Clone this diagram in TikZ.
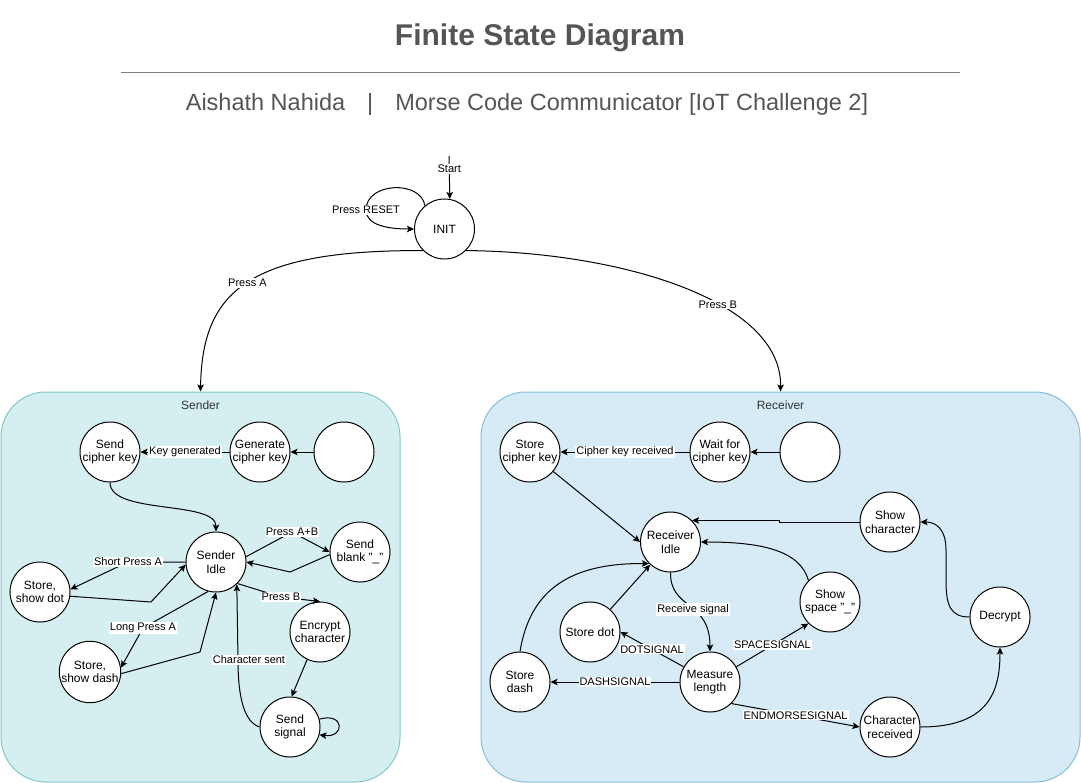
\documentclass[tikz,border=0pt]{standalone}
\usepackage{fontspec}
\setmainfont{Liberation Sans}
\usepackage{tikz}
\usetikzlibrary{arrows.meta}
\definecolor{titlegray}{HTML}{555555}
\definecolor{sendfill}{HTML}{D5EFF1}
\definecolor{senddraw}{HTML}{84C6CB}
\definecolor{recvfill}{HTML}{D6EBF5}
\definecolor{recvdraw}{HTML}{86BDD8}
\tikzstyle{state}=[circle,draw,fill=white,minimum size=60pt,inner sep=0pt,align=center,font=\fontsize{12}{13.5}\selectfont]
\tikzstyle{trans}=[->,>={Stealth[length=7pt,width=6.5pt,inset=1.5pt]}]
\tikzstyle{lab}=[fill=white,inner sep=1pt,font=\fontsize{11}{12}\selectfont]
\tikzstyle{group}=[rectangle,draw,rounded corners=45pt,minimum height=390pt]

\begin{document}
\begin{tikzpicture}[x=1pt,y=-1pt,line width=1pt]
  \useasboundingbox (0,0) rectangle (1081,783);

  \node[font=\bfseries\fontsize{30}{33}\selectfont,text=titlegray] (title) at (540,38) {Finite State Diagram};
  \draw[gray] (121,73) -- (960,73);
  \node[font=\fontsize{23.5}{26}\selectfont,text=titlegray] (subtitle) at (527,104) {Aishath Nahida\hspace{22pt}|\hspace{22pt}Morse Code Communicator [IoT Challenge 2]};

  \node[group,fill=sendfill,draw=senddraw,minimum width=399pt] (sender) at (200.5,587) {};
  \node[group,fill=recvfill,draw=recvdraw,minimum width=599pt] (receiver) at (780.5,587) {};
  \node[font=\fontsize{12}{13}\selectfont,text=black!80] (sendername) at (200.5,405) {Sender};
  \node[font=\fontsize{12}{13}\selectfont,text=black!80] (receivername) at (780.5,405) {Receiver};

  % top
  \node[state] (init) at (444.5,229) {INIT};
  \coordinate (start) at (449,156);
  \draw[trans] (start) -- node[lab,pos=0.3]{Start} (init.80);
  \draw[trans] (init.130) .. controls (421,180) and (366,182) .. (366,210) node[lab]{Press RESET} .. controls (366,226) and (390,229) .. (init.west);
  \draw[trans] (init.-135) .. controls (250,250) and (202,290) .. node[lab,pos=0.5]{Press A} (sender.north);
  \draw[trans] (init.-45) .. controls (620,252) and (782,300) .. node[lab,pos=0.61]{Press B} (receiver.north);

  % sender
  \node[state] (sck) at (110,452) {Send\\cipher key};
  \node[state] (gck) at (260,452) {Generate\\cipher key};
  \node[state] (sblank) at (344,452) {};
  \node[state] (sidle) at (216,562) {Sender\\Idle};
  \node[state] (sendblank) at (360,552) {Send\\blank "\_"};
  \node[state] (sdot) at (40,592) {Store,\\show dot};
  \node[state] (sdash) at (90,672) {Store,\\show dash};
  \node[state] (encrypt) at (320,632) {Encrypt\\character};
  \node[state] (sendsig) at (290,727) {Send\\signal};

  \draw[trans] (sblank) -- (gck);
  \draw[trans] (gck) -- node[lab]{Key generated} (sck);
  \draw[trans] (sck.south) .. controls (110,515) and (216,500) .. (sidle.north);
  \draw[trans] (sidle.10) -- (292,532) node[lab]{Press A+B} -- (sendblank.west);
  \draw[trans] (sendblank.185) -- (290,572) -- (sidle.east);
  \draw[trans] (sidle.west) -- (128,562) node[lab]{Short Press A} -- (sdot.5);
  \draw[trans] (sdot.-8) -- (151,602) -- (sidle.185);
  \draw[trans] (sidle.-105) -- (143,628) node[lab]{Long Press A} -- (sdash.8);
  \draw[trans] (sdash.-3) -- (200,652) -- (sidle.south);
  \draw[trans] (sidle.-45) -- (281,597) node[lab]{Press B} -- (encrypt.north);
  \draw[trans] (encrypt.-115) -- (sendsig.87);
  \draw[trans] (sendsig.west) .. controls (245,722) and (238,700) .. (238,660) node[lab,xshift=11pt]{Character sent} -- (sidle.-47);
  \draw[trans] (sendsig.15) .. controls (345,712) and (345,738) .. (sendsig.-15);

  % receiver
  \node[state] (rsck) at (530,452) {Store\\cipher key};
  \node[state] (wck) at (720,452) {Wait for\\cipher key};
  \node[state] (rblank) at (810,452) {};
  \node[state] (shchar) at (890,522) {Show\\character};
  \node[state] (ridle) at (670.5,542) {Receiver\\Idle};
  \node[state] (sspace) at (830,602) {Show\\space "\_"};
  \node[state] (decrypt) at (1000,617) {Decrypt};
  \node[state] (rdot) at (590,632) {Store dot};
  \node[state] (rdash) at (520,682) {Store\\dash};
  \node[state] (measure) at (710,682) {Measure\\length};
  \node[state] (crec) at (890,727) {Character\\received};

  \draw[trans] (rblank) -- (wck);
  \draw[trans] (wck) -- node[lab]{Cipher key received} (rsck);
  \draw[trans] (rsck.-40) -- (ridle.west);
  \draw[trans] (shchar.west) -- ++(-80,0) |- (ridle.45);
  \draw[trans] (decrypt.west) .. controls (950,617) and (946,605) .. (946,580) -- (946,550) .. controls (946,528) and (935,522) .. (shchar.east);
  \draw[trans] (crec.east) .. controls (990,727) and (1000,690) .. (decrypt.south);
  \draw[trans] (measure.-45) -- node[lab]{ENDMORSESIGNAL} (crec.west);
  \draw[trans] (measure.west) -- node[lab]{DASHSIGNAL} (rdash.east);
  \draw[trans] (measure.150) -- node[lab]{DOTSIGNAL} (rdot.east);
  \draw[trans] (measure.30) -- node[lab]{SPACESIGNAL} (sspace.-135);
  \draw[trans] (ridle.south) .. controls (670,610) and (710,600) .. node[lab,pos=0.55]{Receive signal} (measure.north);
  \draw[trans] (sspace.135) .. controls (800,550) and (760,542) .. (ridle.east);
  \draw[trans] (rdot) -- (ridle);
  \draw[trans] (rdash.north) .. controls (530,590) and (570,563) .. (ridle.-135);

\end{tikzpicture}
\end{document}
